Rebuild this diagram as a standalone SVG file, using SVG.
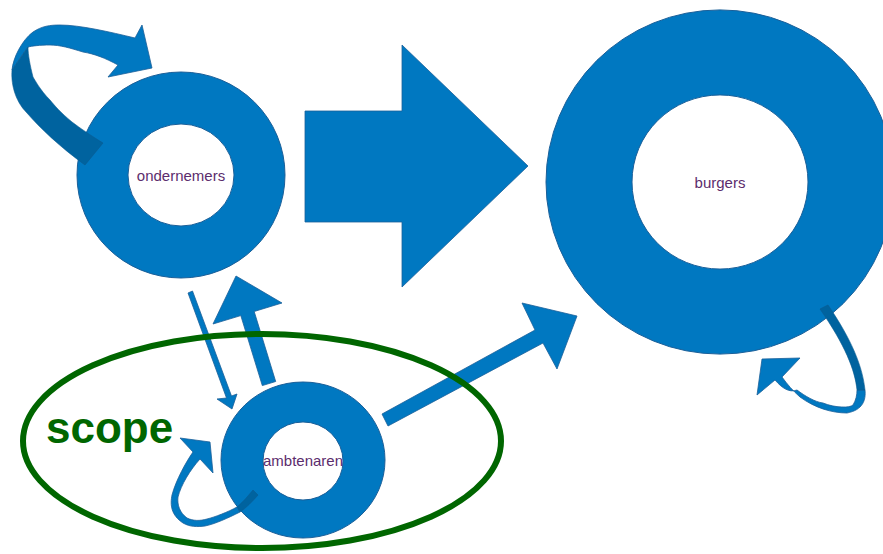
<svg xmlns="http://www.w3.org/2000/svg" width="883" height="554" viewBox="0 0 883 554">
<style>
.ring{fill:#0078c1;fill-rule:evenodd;stroke:#1a5f99;stroke-width:1}
.arr{fill:#0078c1;stroke:#1a5f99;stroke-width:0.8}
.dark{fill:#00639f;stroke:#0a5a90;stroke-width:0.6}
.lbl{font-family:"Liberation Sans",Arial,sans-serif;font-size:15px;fill:#5c2d6d;text-anchor:middle}
</style>
<rect width="883" height="554" fill="#fff"/>
<g id="connectors">
<polygon class="arr" points="305,111 402,111 402,45 528,166 402,287 402,222 305,222"/>
<polygon class="arr" points="382,414 535,330 522,303 577,316 557,369 543,343 388,426"/>
<polygon class="arr" points="262.3,385.6 240.8,315.6 213,324 236,276 282,303 254.2,311.5 275.7,381.5"/>
<polygon class="arr" points="188,293 192.5,291 231.5,396 237,394 232,409 217,399 226.5,398"/>
</g>
<g id="ondernemers">
<path class="ring" d="M77,175a104,103 0 1,0 208,0a104,103 0 1,0 -208,0Z M128,175a53,51 0 1,0 106,0a53,51 0 1,0 -106,0Z"/>
<text class="lbl" x="181" y="181">ondernemers</text>
</g>
<g id="loop-ondernemers">
<path class="arr" d="M12,70 C13,58 22,40 33,32 C42,26 50,25 60,25 C80,25 110,32 135,38 L142,25 L152,68 L108,77 L118,65 C105,58 95,54 83,52 C70,48 60,45 50,45 C40,45 32,46 28,47 Z"/>
<path class="dark" d="M12,70 C11,82 14,100 27,113 C40,128 60,147 85,165 L103,143 C90,135 80,128 72,122 C60,112 55,106 50,100 C40,90 35,80 33,77 C30,65 28,55 28,47 Z"/>
</g>
<g id="burgers">
<path class="ring" d="M546,182a174,172 0 1,0 348,0a174,172 0 1,0 -348,0Z M632,182a88,87 0 1,0 176,0a88,87 0 1,0 -176,0Z"/>
<text class="lbl" x="720" y="188">burgers</text>
</g>
<g id="loop-burgers">
<path class="arr" d="M865,390 C866,400 863,410 847,413 C832,413 815,408 800,397 C793,391 787,384 782,377 L800,358 L762,359 L757,395 L775,380 C782,388 789,393 797,390 C805,396 815,402 823,403 C835,408 850,408 853,405 C856,400 857,395 857,390 Z"/>
<path class="dark" d="M820,309 L828,305 C845,330 862,360 865,390 L857,390 C855,370 845,345 820,309 Z"/>
</g>
<g id="ambtenaren">
<path class="ring" d="M221,460a82,78 0 1,0 164,0a82,78 0 1,0 -164,0Z M263,461a40,39 0 1,0 80,0a40,39 0 1,0 -80,0Z"/>
<text class="lbl" x="303" y="466" font-size="13.5">ambtenaren</text>
</g>
<g id="loop-ambtenaren">
<path class="arr" d="M193,452 C186,462 176,480 172,495 C170,505 171,515 183,523 C190,527 197,527 205,526 C215,524 228,518 240,512 L237,507 C228,512 215,517 207,519 C200,521 193,521 187,518 C180,513 177,505 178,497 C181,485 190,470 200,459 L213,473 L210,442 L180,438 Z"/>
<path class="dark" d="M237,507 L240,512 C246,508 252,502 258,495 L253,490 C248,496 243,502 237,507 Z"/>
</g>
<g id="scope">
<ellipse cx="262" cy="441" rx="239" ry="107" fill="none" stroke="#006600" stroke-width="6"/>
<text x="46" y="443" font-family="Liberation Sans,Arial,sans-serif" font-weight="bold" font-size="44" fill="#006600">scope</text>
</g>
</svg>
